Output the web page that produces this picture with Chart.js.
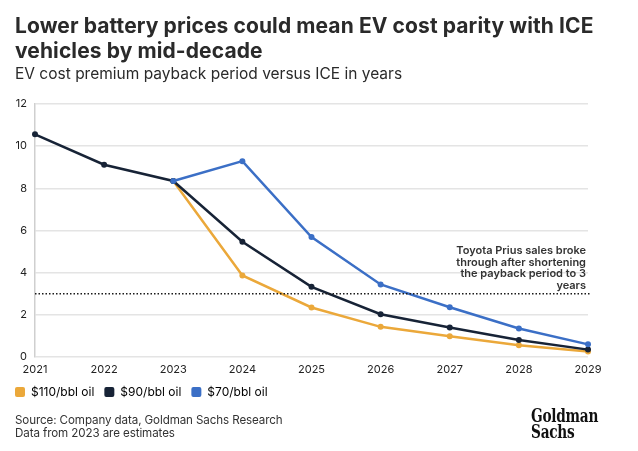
<!DOCTYPE html>
<html>
<head>
<meta charset="utf-8">
<script src="https://cdn.jsdelivr.net/npm/chart.js@4"></script>
<style>
    body { margin: 0; background: #fff; }
    #wrap { position: relative; width: 638px; height: 451px; overflow: hidden; font-family: Inter, sans-serif; color: #2b2b2b; }
    #chart { position: absolute; left: 0; top: 0; }
    .title { position: absolute; left: 15px; top: 13px; width: 610px; font-size: 21px; font-weight: 700; line-height: 25px; letter-spacing: 0.1px; color: #2a2a2a; }
    .subtitle { position: absolute; left: 15px; top: 64px; font-size: 15.5px; line-height: 20px; color: #2a2a2a; }
    .source { position: absolute; left: 15px; top: 414px; font-size: 11.6px; line-height: 13px; letter-spacing: -0.1px; color: #333; }
    .logo { position: absolute; left: 531px; top: 407px; font-family: "DejaVu Serif", serif; font-stretch: condensed; font-weight: 700; font-size: 19px; line-height: 16px; color: #111; transform: scaleX(0.8); transform-origin: left top; letter-spacing: -0.3px; }
</style>
</head>
<body>
<div id="wrap">
    <canvas id="chart" width="638" height="451"></canvas>
    <div class="title">Lower battery prices could mean EV cost parity with ICE vehicles by mid-decade</div>
    <div class="subtitle">EV cost premium payback period versus ICE in years</div>
    <div class="source">Source: Company data, Goldman Sachs Research<br>Data from 2023 are estimates</div>
    <div class="logo">Goldman<br>Sachs</div>
</div>
<script>
// ===== Dados do gráfico =====
const years = ['2021', '2022', '2023', '2024', '2025', '2026', '2027', '2028', '2029'];
const oil110 = [null, null, 8.35, 3.87, 2.35, 1.43, 0.98, 0.56, 0.26];
const oil90 = [10.56, 9.12, 8.35, 5.47, 3.33, 2.03, 1.40, 0.81, 0.35];
const oil70 = [null, null, 8.35, 9.29, 5.69, 3.44, 2.36, 1.35, 0.60];
const yTicks = [0, 2, 4, 6, 8, 10, 12];
const thresholdValue = 3;
const noteLines = ['Toyota Prius sales broke', 'through after shortening', 'the payback period to 3', 'years'];

// Linha pontilhada + anotação do Prius
const thresholdPlugin = {
    id: 'threshold',
    afterDatasetsDraw(chart) {
        const { ctx, chartArea } = chart;
        const y = chart.scales.y.getPixelForValue(thresholdValue);
        ctx.save();
        ctx.strokeStyle = '#1a1a1a';
        ctx.lineWidth = 1.5;
        ctx.setLineDash([1.5, 2]);
        ctx.beginPath();
        ctx.moveTo(chartArea.left, y);
        ctx.lineTo(chartArea.right + 2, y);
        ctx.stroke();
        ctx.setLineDash([]);
        ctx.fillStyle = '#333';
        ctx.font = '600 11px Inter';
        ctx.textAlign = 'right';
        ctx.textBaseline = 'middle';
        const x = chartArea.right - 2;
        noteLines.forEach((line, i) => {
            ctx.fillText(line, x, y - 8 - (noteLines.length - 1 - i) * 11.7);
        });
        ctx.restore();
    }
};

const ctx = document.getElementById('chart').getContext('2d');
new Chart(ctx, {
    type: 'line',
    data: {
        labels: years,
        datasets: [
            { label: '$110/bbl oil', data: oil110, borderColor: '#eba83a', backgroundColor: '#eba83a', order: 3 },
            { label: '$90/bbl oil', data: oil90, borderColor: '#172336', backgroundColor: '#172336', order: 2 },
            { label: '$70/bbl oil', data: oil70, borderColor: '#3b6fc6', backgroundColor: '#3b6fc6', order: 1 }
        ]
    },
    options: {
        responsive: false,
        animation: false,
        elements: {
            line: { borderWidth: 2.5, tension: 0 },
            point: { radius: 3, borderWidth: 0, hoverRadius: 3 }
        },
        layout: { padding: { left: 5, right: 50, top: 104, bottom: 43 } },
        plugins: {
            legend: {
                position: 'bottom',
                align: 'start',
                labels: {
                    boxWidth: 10,
                    boxHeight: 10,
                    padding: 10,
                    color: '#333',
                    font: { size: 12, family: 'Inter' },
                    generateLabels(chart) {
                        return chart.data.datasets.map((ds, i) => ({
                            text: ds.label,
                            fillStyle: ds.backgroundColor,
                            strokeStyle: ds.backgroundColor,
                            lineWidth: 0,
                            datasetIndex: i,
                            borderRadius: 2
                        }));
                    }
                }
            },
            tooltip: { enabled: false }
        },
        scales: {
            x: {
                offset: false,
                grid: { display: false, drawTicks: false },
                border: { display: false },
                ticks: { color: '#222', font: { size: 11, family: 'Inter' }, padding: 6, maxRotation: 0 },
                afterFit(scale) { scale.height = 19; }
            },
            y: {
                min: 0,
                max: 12,
                afterBuildTicks(scale) { scale.ticks = yTicks.map(v => ({ value: v })); },
                grid: { color: '#e4e4e4', lineWidth: 1.5, drawTicks: false },
                border: { display: true, color: '#cfcfcf', width: 1.5 },
                ticks: { color: '#222', font: { size: 11, family: 'Inter' }, padding: 8 },
                afterFit(scale) { scale.width = 30; }
            }
        }
    },
    plugins: [thresholdPlugin]
});
</script>
</body>
</html>
